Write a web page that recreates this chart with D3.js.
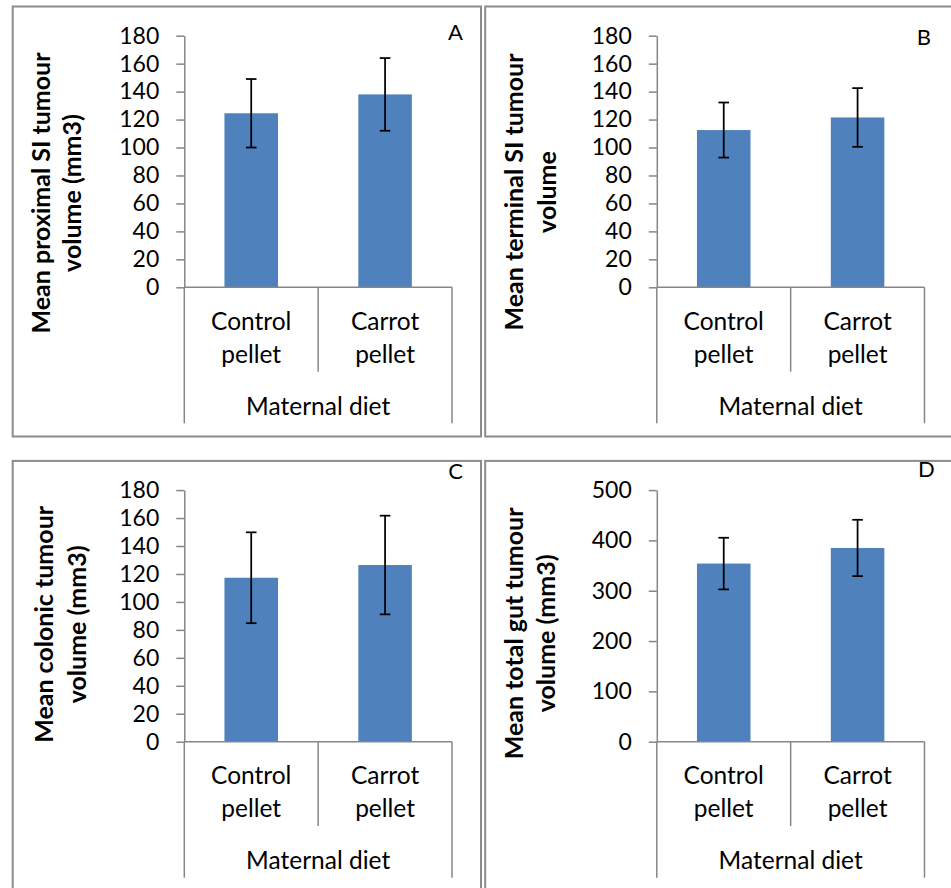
<!DOCTYPE html>
<html>
<head>
<meta charset="utf-8">
<script src="https://cdn.jsdelivr.net/npm/d3@7"></script>
<style>
  body { margin: 0; background: #fff; }
  svg text { font-family: Lato, "Open Sans", sans-serif; fill: #000; }
</style>
</head>
<body>
<div id="chart"></div>
<script>
// values
var categories = ["Control pellet", "Carrot pellet"];
var groupLabel = "Maternal diet";
var letters = ["A", "B", "C", "D"];
var titles = [
  ["Mean proximal SI tumour", "volume (mm3)"],
  ["Mean terminal SI tumour", "volume"],
  ["Mean colonic tumour", "volume (mm3)"],
  ["Mean total gut tumour", "volume (mm3)"]
];
var proximalMean = [124.5, 138];
var proximalErr = [24.5, 26];
var terminalMean = [112.5, 121.5];
var terminalErr = [19.7, 21];
var colonicMean = [117.3, 126.4];
var colonicErr = [32.5, 35.3];
var totalMean = [354, 385];
var totalErr = [51.3, 56];
var yTicksSmall = [0, 20, 40, 60, 80, 100, 120, 140, 160, 180];
var yTicksTotal = [0, 100, 200, 300, 400, 500];

var means = [proximalMean, terminalMean, colonicMean, totalMean];
var errs = [proximalErr, terminalErr, colonicErr, totalErr];
var ticks = [yTicksSmall, yTicksSmall, yTicksSmall, yTicksTotal];

// panel placement (layout only)
var layout = [
  {dx: 0,     dy: 0,     tx: [50, 81],     ty: 193, lx: 455.5, ly: 40,   bh: 430},
  {dx: 472.5, dy: 0,     tx: [50.5, 83.8], ty: 192, lx: 451.4, ly: 45,   bh: 430},
  {dx: 0,     dy: 454.4, tx: [53.3, 86],   ty: 170, lx: 455.5, ly: 24.6, bh: 460},
  {dx: 472.5, dy: 454.4, tx: [50.5, 82.2], ty: 179, lx: 453.8, ly: 22.3, bh: 460}
];

var W = 951, H = 888;
var axisX = 184.3, plotRight = 452, plotTop = 35.7, plotBottom = 287.3;
var gray = "#868686";

var svg = d3.select("#chart").append("svg")
    .attr("width", W)
    .attr("height", H);

layout.forEach(function(p, i) {
    var g = svg.append("g")
        .attr("transform", "translate(" + p.dx + "," + p.dy + ")");

    // panel frame
    g.append("rect")
        .attr("x", 12.7).attr("y", 6.5)
        .attr("width", 468.3).attr("height", p.bh)
        .attr("fill", "none")
        .attr("stroke", "#8c8c8c")
        .attr("stroke-width", 2);

    var y = d3.scaleLinear()
        .domain([0, d3.max(ticks[i])])
        .range([plotBottom, plotTop]);

    var xCat = d3.scaleBand()
        .domain(categories)
        .range([axisX, plotRight]);

    var xBar = d3.scaleBand()
        .domain(categories)
        .range([axisX, plotRight])
        .paddingInner(0.6)
        .paddingOuter(0.3);

    var data = categories.map(function(c, k) {
        return {cat: c, mean: means[i][k], err: errs[i][k]};
    });

    // bars
    g.selectAll(".bar")
        .data(data)
        .enter().append("rect")
        .attr("class", "bar")
        .attr("x", function(d) { return xBar(d.cat); })
        .attr("width", xBar.bandwidth())
        .attr("y", function(d) { return y(d.mean); })
        .attr("height", function(d) { return plotBottom - y(d.mean); })
        .attr("fill", "#4F81BD");

    // y axis
    var yAxis = g.append("g")
        .attr("transform", "translate(" + axisX + ",0)")
        .call(d3.axisLeft(y)
            .tickValues(ticks[i])
            .tickSize(8)
            .tickSizeOuter(0)
            .tickPadding(17));
    yAxis.select(".domain").attr("stroke", gray).attr("stroke-width", 1.5);
    yAxis.selectAll(".tick line").attr("stroke", gray).attr("stroke-width", 1.5);
    yAxis.selectAll(".tick text")
        .attr("font-size", "23px")
        .attr("font-family", "Lato")
        .attr("fill", "#000");

    // x axis line
    g.append("line")
        .attr("x1", axisX).attr("x2", plotRight)
        .attr("y1", plotBottom).attr("y2", plotBottom)
        .attr("stroke", gray).attr("stroke-width", 1.5);

    // category frame lines
    var bounds = [axisX].concat(categories.map(function(c) { return xCat(c) + xCat.bandwidth(); }));
    g.selectAll(".divider")
        .data(bounds)
        .enter().append("line")
        .attr("x1", function(d) { return d; })
        .attr("x2", function(d) { return d; })
        .attr("y1", plotBottom)
        .attr("y2", function(d, k) { return (k === 0 || k === bounds.length - 1) ? 423.3 : 371.7; })
        .attr("stroke", gray).attr("stroke-width", 1.5);

    // error bars
    var eb = g.selectAll(".err")
        .data(data)
        .enter().append("g")
        .attr("class", "err")
        .attr("transform", function(d) { return "translate(" + (xCat(d.cat) + xCat.bandwidth() / 2) + ",0)"; });
    eb.append("line")
        .attr("y1", function(d) { return y(d.mean - d.err); })
        .attr("y2", function(d) { return y(d.mean + d.err); })
        .attr("stroke", "#000").attr("stroke-width", 1.75);
    eb.append("line")
        .attr("x1", -5.3).attr("x2", 5.3)
        .attr("y1", function(d) { return y(d.mean + d.err); })
        .attr("y2", function(d) { return y(d.mean + d.err); })
        .attr("stroke", "#000").attr("stroke-width", 1.75);
    eb.append("line")
        .attr("x1", -5.3).attr("x2", 5.3)
        .attr("y1", function(d) { return y(d.mean - d.err); })
        .attr("y2", function(d) { return y(d.mean - d.err); })
        .attr("stroke", "#000").attr("stroke-width", 1.75);

    // category labels (two lines)
    var cl = g.selectAll(".catlabel")
        .data(categories)
        .enter().append("text")
        .attr("class", "catlabel")
        .attr("text-anchor", "middle")
        .attr("font-size", "24.5px");
    cl.append("tspan")
        .attr("x", function(d) { return xCat(d) + xCat.bandwidth() / 2; })
        .attr("y", 330)
        .text(function(d) { return d.split(" ")[0]; });
    cl.append("tspan")
        .attr("x", function(d) { return xCat(d) + xCat.bandwidth() / 2; })
        .attr("y", 362.7)
        .text(function(d) { return d.split(" ")[1]; });

    g.append("text")
        .attr("x", (axisX + plotRight) / 2)
        .attr("y", 415)
        .attr("text-anchor", "middle")
        .attr("font-size", "24.5px")
        .text(groupLabel);

    // y title, rotated
    titles[i].forEach(function(t, k) {
        g.append("text")
            .attr("transform", "translate(" + p.tx[k] + "," + p.ty + ") rotate(-90)")
            .attr("text-anchor", "middle")
            .attr("font-size", "25px")
            .attr("font-weight", "bold")
            .text(t);
    });

    // panel letter
    g.append("text")
        .attr("x", p.lx).attr("y", p.ly)
        .attr("text-anchor", "middle")
        .attr("font-size", "22px")
        .text(letters[i]);
});
</script>
</body>
</html>
